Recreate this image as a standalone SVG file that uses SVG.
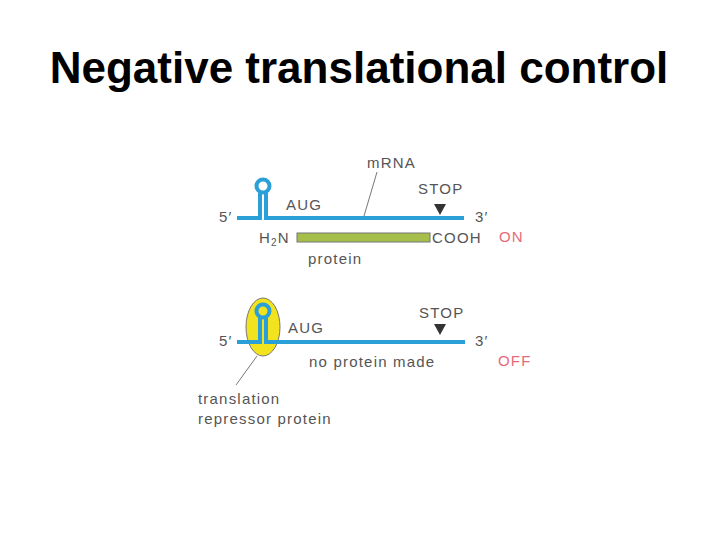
<svg xmlns="http://www.w3.org/2000/svg" width="720" height="540" viewBox="0 0 720 540">
<style>
.t{font-family:"Liberation Sans",Arial,sans-serif;fill:#555;font-size:15px;letter-spacing:1.2px}
.r{font-family:"Liberation Sans",Arial,sans-serif;fill:#e86a78;font-size:15px;letter-spacing:1.2px}
.m{stroke:#2a9fd8;stroke-width:4;fill:none}
.l{stroke:#777;stroke-width:1;fill:none}
</style>
<rect width="720" height="540" fill="#fff"/>
<text x="359" y="83" text-anchor="middle" font-family="Liberation Sans,Arial,sans-serif" font-size="44" font-weight="bold" fill="#000">Negative translational control</text>
<g id="on">
<path class="m" d="M237 218H260V193M266 193V218H464"/>
<circle class="m" cx="263" cy="186" r="6.5"/>
<rect x="297" y="233" width="133" height="9" fill="#a6bf4a" stroke="#777" stroke-width="1"/>
<path d="M434 204h12l-6 11z" fill="#333"/>
<text class="t" x="219" y="222">5′</text>
<text class="t" x="475" y="222">3′</text>
<text class="t" x="286" y="210">AUG</text>
<text class="t" x="418" y="194">STOP</text>
<text class="t" x="367" y="168">mRNA</text>
<text class="t" x="259" y="243">H<tspan font-size="10" dy="3">2</tspan><tspan dy="-3">N</tspan></text>
<text class="t" x="432" y="243">COOH</text>
<text class="t" x="308" y="264">protein</text>
<text class="r" x="499" y="242">ON</text>
</g>
<g id="off">
<ellipse cx="263" cy="327" rx="17" ry="29" fill="#f3e21e" stroke="#777" stroke-width="1"/>
<path class="m" d="M237 342H260V318M266 318V342H465"/>
<circle class="m" cx="263" cy="311" r="6.5"/>
<path d="M434 324h12l-6 11z" fill="#333"/>
<text class="t" x="219" y="346">5′</text>
<text class="t" x="475" y="346">3′</text>
<text class="t" x="288" y="333">AUG</text>
<text class="t" x="419" y="318">STOP</text>
<text class="t" x="309" y="367">no protein made</text>
<text class="r" x="498" y="366">OFF</text>
<text class="t" x="198" y="404">translation</text>
<text class="t" x="198" y="424">repressor protein</text>
</g>
<g id="connectors">
<path class="l" d="M377 172L364 216"/>
<path class="l" d="M257 356L236 385"/>
</g>
</svg>
